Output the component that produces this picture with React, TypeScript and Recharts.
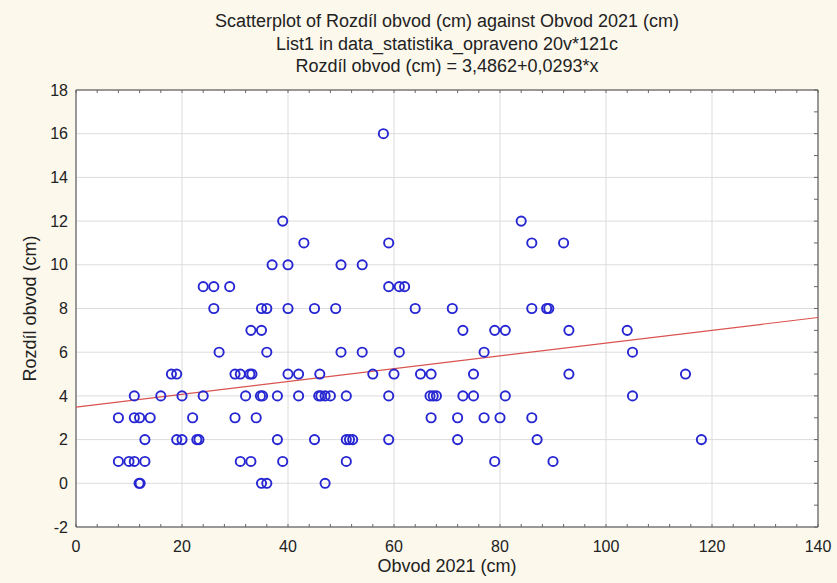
import React from 'react';
import {
  ScatterChart,
  Scatter,
  XAxis,
  YAxis,
  CartesianGrid,
} from 'recharts';

// Obvod 2021 (cm) values, grouped by Rozdíl obvod level (top to bottom)
const obvod2021: number[] = [
  58,
  39, 84,
  43, 59, 86, 92,
  37, 40, 50, 54,
  24, 26, 29, 59, 61, 62,
  26, 35, 36, 40, 45, 49, 64, 71, 86, 88.8, 89.2,
  33, 35, 73, 79, 81, 93, 104,
  27, 36, 50, 54, 61, 77, 105,
  18, 19, 30, 31, 32.8, 33.2, 40, 42, 46, 56, 60, 65, 67, 75, 93, 115,
  11, 16, 20, 24, 32, 34.8, 35.2, 38, 42, 45.8, 46.2, 47, 48, 51, 59, 66.8, 67.4, 68, 73, 75, 81, 105,
  8, 11, 12, 14, 22, 30, 34, 67, 72, 77, 80, 86,
  13, 19, 20, 22.8, 23.2, 38, 45, 51, 51.6, 52.2, 59, 72, 87, 118,
  8, 10, 11, 13, 31, 33, 39, 51, 79, 90,
  11.9, 12.1, 35, 36, 47,
];

const rozdilObvod: number[] = [
  16,
  12, 12,
  11, 11, 11, 11,
  10, 10, 10, 10,
  9, 9, 9, 9, 9, 9,
  8, 8, 8, 8, 8, 8, 8, 8, 8, 8, 8,
  7, 7, 7, 7, 7, 7, 7,
  6, 6, 6, 6, 6, 6, 6,
  5, 5, 5, 5, 5, 5, 5, 5, 5, 5, 5, 5, 5, 5, 5, 5,
  4, 4, 4, 4, 4, 4, 4, 4, 4, 4, 4, 4, 4, 4, 4, 4, 4, 4, 4, 4, 4, 4,
  3, 3, 3, 3, 3, 3, 3, 3, 3, 3, 3, 3,
  2, 2, 2, 2, 2, 2, 2, 2, 2, 2, 2, 2, 2, 2,
  1, 1, 1, 1, 1, 1, 1, 1, 1, 1,
  0, 0, 0, 0, 0,
];

const intercept = 3.4862;
const slope = 0.0293;
const xDomain: [number, number] = [0, 140];
const yDomain: [number, number] = [-2, 18];
const xTicks = [0, 20, 40, 60, 80, 100, 120, 140];
const yTicks = [-2, 0, 2, 4, 6, 8, 10, 12, 14, 16, 18];
const xMinorTicks = [0, 4, 8, 12, 16, 20, 24, 28, 32, 36, 40, 44, 48, 52, 56, 60, 64, 68, 72, 76, 80, 84, 88, 92, 96, 100, 104, 108, 112, 116, 120, 124, 128, 132, 136, 140];
const yMinorTicks = [-2, -1, 0, 1, 2, 3, 4, 5, 6, 7, 8, 9, 10, 11, 12, 13, 14, 15, 16, 17, 18];

const titleLines = [
  'Scatterplot of Rozdíl obvod (cm) against Obvod 2021 (cm)',
  'List1 in data_statistika_opraveno 20v*121c',
  'Rozdíl obvod (cm) = 3,4862+0,0293*x',
];

const points = obvod2021.map((x, i) => ({ x, y: rozdilObvod[i] }));
const fitLine = xDomain.map((x) => ({ x, y: intercept + slope * x }));

const FONT = "'Liberation Sans', Arial, sans-serif";
const BG = '#FCF8EC';
const TEXT = '#222';
const FRAME = '#444';
const TICK = '#666';

const OpenCircle = (props: any) => {
  const { cx, cy } = props;
  if (cx == null || cy == null) return <g />;
  return <circle cx={cx} cy={cy} r={4.6} fill="none" stroke="#2626D2" strokeWidth={1.9} />;
};

const Empty = () => <g />;

const BottomTick = (props: any) => {
  const { x, y, payload } = props;
  const v = payload.value;
  const major = xTicks.includes(v);
  return (
    <g>
      <line x1={x} x2={x} y1={y} y2={y - 3} stroke={TICK} strokeWidth={1} />
      {major && (
        <text x={x} y={y + 14} dy="0.71em" textAnchor="middle" fontSize={16} fill={TEXT} fontFamily={FONT}>
          {v}
        </text>
      )}
    </g>
  );
};

const TopTick = (props: any) => {
  const { x, y } = props;
  return <line x1={x} x2={x} y1={y} y2={y + 3} stroke={TICK} strokeWidth={1} />;
};

const RightTick = (props: any) => {
  const { x, y } = props;
  return <line x1={x} x2={x - 4} y1={y} y2={y} stroke={TICK} strokeWidth={1} />;
};

export default function App() {
  return (
    <div style={{ position: 'absolute', left: 0, top: 0, width: 837, height: 583, background: BG, fontFamily: FONT }}>
      <div style={{ position: 'absolute', left: 76, top: 10, width: 742, textAlign: 'center', fontSize: 18, lineHeight: '22.5px', color: TEXT }}>
        {titleLines.map((t) => (
          <div key={t}>{t}</div>
        ))}
      </div>
      <div style={{ position: 'absolute', left: 0, top: 0 }}>
        <ScatterChart width={837} height={583} margin={{ top: 89, right: 0, bottom: 0, left: 0 }}>
          <CartesianGrid stroke="#dcdcdc" strokeWidth={1} horizontalValues={yTicks} verticalValues={xTicks} fill="#ffffff" />
          <XAxis
            xAxisId={0}
            type="number"
            dataKey="x"
            domain={xDomain}
            ticks={xMinorTicks}
            interval={0}
            allowDataOverflow
            height={56}
            tickSize={0}
            tickMargin={0}
            axisLine={{ stroke: FRAME }}
            tick={BottomTick}
            label={{ value: 'Obvod 2021 (cm)', position: 'insideBottom', offset: 11, fontSize: 18, fill: TEXT, fontFamily: FONT }}
          />
          <XAxis
            xAxisId="top"
            orientation="top"
            type="number"
            dataKey="x"
            domain={xDomain}
            ticks={xMinorTicks}
            interval={0}
            allowDataOverflow
            height={1}
            tickSize={0}
            tickMargin={0}
            axisLine={{ stroke: FRAME }}
            tick={TopTick}
          />
          <YAxis
            yAxisId={0}
            type="number"
            dataKey="y"
            domain={yDomain}
            ticks={yTicks}
            interval={0}
            allowDataOverflow
            width={76}
            tickSize={0}
            tickMargin={8}
            axisLine={{ stroke: FRAME }}
            tick={{ fontSize: 16, fill: TEXT, fontFamily: FONT }}
            label={{ value: 'Rozdíl obvod (cm)', angle: -90, position: 'insideLeft', offset: 30, fontSize: 18, fill: TEXT, fontFamily: FONT, style: { textAnchor: 'middle' } }}
          />
          <YAxis
            yAxisId="right"
            orientation="right"
            type="number"
            dataKey="y"
            domain={yDomain}
            ticks={yMinorTicks}
            interval={0}
            allowDataOverflow
            width={19}
            tickSize={0}
            tickMargin={0}
            axisLine={{ stroke: FRAME }}
            tick={RightTick}
          />
          <Scatter data={fitLine} xAxisId="top" yAxisId="right" shape={Empty} legendType="none" isAnimationActive={false} />
          <Scatter
            data={fitLine}
            xAxisId={0}
            yAxisId={0}
            line={{ stroke: '#D9534F', strokeWidth: 1.2 }}
            shape={Empty}
            isAnimationActive={false}
          />
          <Scatter
            data={points}
            xAxisId={0}
            yAxisId={0}
            shape={OpenCircle}
            isAnimationActive={false}
          />
        </ScatterChart>
      </div>
    </div>
  );
}
